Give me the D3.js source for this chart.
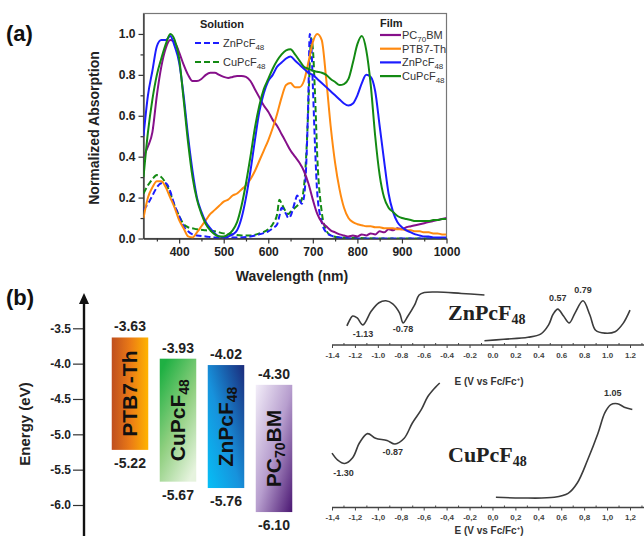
<!DOCTYPE html>
<html lang="en">
<head>
<meta charset="UTF-8" />
<title>Absorption, energy levels and CV</title>
<script src="https://d3js.org/d3.v7.min.js"></script>
<style>
  body { margin: 0; background: #fff; font-family: "Liberation Sans", Arial, sans-serif; }
  svg { display: block; }
  .ax .domain { stroke: #333; stroke-width: 1.3px; }
  .ax .tick line { stroke: #333; stroke-width: 1.2px; }
  .ax .tick text { font-family: "Liberation Sans", Arial, sans-serif; font-weight: bold; font-size: 12px; fill: #222; }
  .cvax .domain { stroke: #444; stroke-width: 1.2px; }
  .cvax .tick line { stroke: #444; stroke-width: 1px; }
  .cvax .tick text { font-family: "Liberation Sans", Arial, sans-serif; font-weight: bold; font-size: 8px; fill: #444; }
</style>
</head>
<body>
<svg id="fig" width="644" height="536"></svg>
<script>
// ---------- (a) absorption data ----------
const wlFilm = [320,330,340,350,360,370,380,390,400,410,420,430,440,450,460,470,480,490,500,
  510,520,530,540,550,560,570,580,590,600,610,620,630,640,650,660,670,680,690,700,
  710,720,730,740,750,760,770,780,790,800,810,820,830,840,850,860,870,880,890,900,
  910,920,930,940,950,960,970,980,990,1000];

const pc70bmFilm = [0.40,0.45,0.52,0.70,0.84,0.93,0.97,0.96,0.91,0.85,0.80,0.77,0.77,0.78,0.80,0.81,0.81,0.80,0.79,
  0.785,0.79,0.795,0.795,0.79,0.77,0.73,0.69,0.65,0.62,0.58,0.55,0.51,0.47,0.43,0.40,0.37,0.33,0.27,0.19,
  0.12,0.08,0.06,0.04,0.03,0.02,0.015,0.01,0.015,0.01,0.02,0.015,0.025,0.02,0.035,0.03,0.045,0.04,0.05,0.045,
  0.055,0.06,0.065,0.07,0.075,0.08,0.085,0.09,0.095,0.10];

const ptb7Film = [0.10,0.20,0.25,0.28,0.28,0.25,0.20,0.15,0.09,0.05,0.01,0.005,0.03,0.06,0.09,0.12,0.14,0.16,0.18,
  0.19,0.21,0.22,0.24,0.26,0.29,0.33,0.38,0.43,0.48,0.54,0.61,0.69,0.75,0.76,0.74,0.74,0.77,0.86,0.96,
  1.0,0.97,0.78,0.55,0.37,0.24,0.15,0.10,0.08,0.07,0.065,0.06,0.06,0.055,0.055,0.05,0.05,0.05,0.045,0.045,
  0.04,0.04,0.035,0.035,0.03,0.03,0.025,0.025,0.02,0.02];

const znFilm = [0.50,0.70,0.82,0.94,0.97,0.97,0.99,0.94,0.86,0.70,0.50,0.33,0.20,0.13,0.08,0.05,0.025,0.01,0.005,
  0.01,0.02,0.04,0.10,0.20,0.33,0.48,0.62,0.71,0.77,0.80,0.84,0.86,0.88,0.89,0.87,0.85,0.83,0.81,0.80,
  0.78,0.76,0.74,0.72,0.70,0.68,0.66,0.65,0.66,0.70,0.76,0.80,0.79,0.72,0.55,0.38,0.22,0.13,0.08,0.055,
  0.04,0.03,0.02,0.015,0.01,0.01,0.005,0.005,0.005,0.005];

const cuFilm = [0.30,0.52,0.68,0.80,0.88,0.95,1.0,0.97,0.88,0.68,0.47,0.30,0.19,0.12,0.07,0.04,0.02,0.01,0.01,
  0.02,0.04,0.08,0.16,0.27,0.40,0.54,0.65,0.73,0.78,0.83,0.87,0.90,0.92,0.925,0.90,0.87,0.84,0.83,0.82,
  0.815,0.81,0.80,0.78,0.765,0.75,0.755,0.78,0.86,0.95,0.99,0.92,0.75,0.50,0.31,0.20,0.15,0.13,0.11,0.10,
  0.095,0.09,0.085,0.085,0.085,0.085,0.09,0.09,0.095,0.095];

const wlSol = [320,330,340,350,360,370,380,390,400,410,420,430,440,460,480,500,520,540,560,580,600,610,620,625,
  630,640,645,650,660,665,670,675,680,685,690,693,696,700,705,710,720,730,740,760,800,850,900,950,1000];

const znSol = [0.14,0.17,0.21,0.25,0.27,0.27,0.23,0.16,0.11,0.06,0.035,0.02,0.015,0.01,0.005,0.005,0.005,0.005,0.01,0.02,0.035,0.05,0.07,0.11,
  0.15,0.12,0.10,0.11,0.18,0.21,0.19,0.17,0.20,0.35,0.70,1.0,0.97,0.75,0.45,0.22,0.08,0.03,0.015,0.005,0,0,0,0,0];

const cuSol = [0.22,0.26,0.29,0.31,0.30,0.27,0.22,0.16,0.11,0.07,0.055,0.05,0.045,0.04,0.035,0.025,0.02,0.015,0.015,0.025,0.045,0.07,0.12,0.19,
  0.17,0.13,0.12,0.13,0.15,0.16,0.17,0.19,0.25,0.40,0.65,0.85,0.98,0.93,0.70,0.40,0.13,0.04,0.015,0.005,0.003,0,0,0,0];

const xTicks = [400,500,600,700,800,900,1000];
const xMinor = [350,450,550,650,750,850,950];
const yTicks = [0,0.2,0.4,0.6,0.8,1.0];
const yMinor = [0.1,0.3,0.5,0.7,0.9];

// ---------- (b) energy levels ----------
const materials = ["PTB7-Th","CuPcF48","ZnPcF48","PC70BM"];
const lumo = [-3.63,-3.93,-4.02,-4.30];
const homo = [-5.22,-5.67,-5.76,-6.10];
const energyTicks = [-3.5,-4.0,-4.5,-5.0,-5.5,-6.0];

// ---------- (b) cyclic voltammetry (normalised current) ----------
const cvTicks = [-1.4,-1.2,-1.0,-0.8,-0.6,-0.4,-0.2,0.0,0.2,0.4,0.6,0.8,1.0,1.2];
const cvMinor = [-1.3,-1.1,-0.9,-0.7,-0.5,-0.3,-0.1,0.1,0.3,0.5,0.7,0.9,1.1,1.3];

const znRedE = [-1.27,-1.24,-1.22,-1.18,-1.13,-1.06,-0.99,-0.93,-0.87,-0.81,-0.78,-0.74,-0.68,-0.64,-0.595,-0.48,-0.27,-0.07];
const znRedI = [0.31,0.45,0.51,0.47,0.33,0.60,0.78,0.82,0.76,0.57,0.37,0.50,0.73,0.94,0.99,1.0,0.97,0.94];
const znOxE = [-0.07,0.10,0.31,0.42,0.49,0.53,0.57,0.62,0.67,0.72,0.79,0.85,0.90,0.98,1.07,1.14,1.20];
const znOxI = [0.006,0.035,0.075,0.14,0.33,0.55,0.65,0.51,0.37,0.57,0.82,0.53,0.22,0.16,0.19,0.36,0.63];

const cuRedE = [-1.40,-1.35,-1.29,-1.22,-1.16,-1.09,-1.02,-0.92,-0.85,-0.77,-0.70,-0.62,-0.565,-0.50,-0.46];
const cuRedI = [0.39,0.33,0.30,0.35,0.48,0.56,0.52,0.50,0.47,0.52,0.65,0.77,0.88,0.96,1.0];
const cuOxE = [0.03,0.25,0.54,0.66,0.74,0.83,0.92,0.98,1.03,1.09,1.15,1.22];
const cuOxI = [0.006,0.0,0.006,0.04,0.13,0.33,0.56,0.74,0.81,0.82,0.79,0.77];

const svg = d3.select("#fig");
svg.append("rect").attr("width", 644).attr("height", 536).attr("fill", "#fff");
const defs = svg.append("defs");

// write text made of [string, isSub] parts
function richText(sel, parts, subSize, subDy) {
  parts.forEach(p => {
    const t = sel.append("tspan").text(p[0]);
    if (p[1]) t.attr("font-size", subSize).attr("dy", subDy);
    else if (sel.selectAll("tspan").size() > 1) t.attr("dy", -subDy);
  });
  return sel;
}
function richParts(name) {
  if (name === "PC70BM") return [["PC", false], ["70", true], ["BM", false]];
  if (name.endsWith("48")) return [[name.slice(0, -2), false], ["48", true]];
  return [[name, false]];
}

// ================= panel (a) =================
const ax = d3.scaleLinear().domain([320, 1000]).range([143.5, 446.5]);
const ay = d3.scaleLinear().domain([0, 1.1]).range([238.5, 13.5]);

const pa = svg.append("g");
defs.append("clipPath").attr("id", "clipA").append("rect")
  .attr("x", ax(320)).attr("y", ay(1.1)).attr("width", ax(1000) - ax(320)).attr("height", ay(0) - ay(1.1));

pa.append("rect")
  .attr("x", ax(320)).attr("y", ay(1.1))
  .attr("width", ax(1000) - ax(320)).attr("height", ay(0) - ay(1.1))
  .attr("fill", "none").attr("stroke", "#777").attr("stroke-width", 1.2);

pa.append("g").attr("class", "ax").attr("transform", `translate(0,${ay(0)})`)
  .call(d3.axisBottom(ax).tickValues(xTicks).tickSize(5).tickSizeOuter(0).tickPadding(4).tickFormat(d3.format("d")));
pa.append("g").attr("class", "ax").attr("transform", `translate(0,${ay(0)})`)
  .call(d3.axisBottom(ax).tickValues(xMinor).tickSize(3).tickSizeOuter(0).tickFormat(""))
  .select(".domain").remove();
pa.append("g").attr("class", "ax").attr("transform", `translate(${ax(320)},0)`)
  .call(d3.axisLeft(ay).tickValues(yTicks).tickSize(5).tickSizeOuter(0).tickPadding(3).tickFormat(d => d.toFixed(1)));
pa.append("g").attr("class", "ax").attr("transform", `translate(${ax(320)},0)`)
  .call(d3.axisLeft(ay).tickValues(yMinor).tickSize(3).tickSizeOuter(0).tickFormat(""))
  .select(".domain").remove();

const plotA = pa.append("g").attr("clip-path", "url(#clipA)");
const absSeries = [
  { wl: wlSol, v: cuSol, color: "#138a13", dash: "6,3" },
  { wl: wlSol, v: znSol, color: "#1c1cff", dash: "6,3" },
  { wl: wlFilm, v: pc70bmFilm, color: "#86108a", dash: null },
  { wl: wlFilm, v: ptb7Film, color: "#ff8a10", dash: null },
  { wl: wlFilm, v: znFilm, color: "#1c1cff", dash: null },
  { wl: wlFilm, v: cuFilm, color: "#138a13", dash: null }
];
absSeries.forEach(s => {
  plotA.append("path")
    .datum(s.v)
    .attr("fill", "none")
    .attr("stroke", s.color)
    .attr("stroke-width", 2)
    .attr("stroke-dasharray", s.dash)
    .attr("d", d3.line().x((d, i) => ax(s.wl[i])).y(d => ay(d)).curve(d3.curveMonotoneX));
});

pa.append("text").attr("x", 6).attr("y", 41).attr("font-size", 22).attr("font-weight", "bold").attr("fill", "#111").text("(a)");
pa.append("text").attr("transform", "translate(99,128) rotate(-90)").attr("text-anchor", "middle")
  .attr("font-size", 14).attr("font-weight", "bold").attr("fill", "#222").text("Normalized Absorption");
pa.append("text").attr("x", 292).attr("y", 281).attr("text-anchor", "middle")
  .attr("font-size", 14).attr("font-weight", "bold").attr("fill", "#222").text("Wavelength (nm)");

// legends
pa.append("text").attr("x", 200).attr("y", 28).attr("font-size", 11).attr("font-weight", "bold").attr("fill", "#222").text("Solution");
const solLegend = [["ZnPcF48", "#1c1cff"], ["CuPcF48", "#138a13"]];
solLegend.forEach((d, i) => {
  const y = 43 + i * 19;
  pa.append("line").attr("x1", 195).attr("x2", 221).attr("y1", y).attr("y2", y)
    .attr("stroke", d[1]).attr("stroke-width", 2).attr("stroke-dasharray", "6,3");
  richText(pa.append("text").attr("x", 223).attr("y", y + 4).attr("font-size", 11).attr("fill", "#333"),
    richParts(d[0]), 8, 3);
});
pa.append("text").attr("x", 380).attr("y", 27).attr("font-size", 11).attr("font-weight", "bold").attr("fill", "#222").text("Film");
const filmLegend = [["PC70BM", "#86108a"], ["PTB7-Th", "#ff8a10"], ["ZnPcF48", "#1c1cff"], ["CuPcF48", "#138a13"]];
filmLegend.forEach((d, i) => {
  const y = 35 + i * 13.7;
  pa.append("line").attr("x1", 380).attr("x2", 401).attr("y1", y).attr("y2", y)
    .attr("stroke", d[1]).attr("stroke-width", 2.2);
  richText(pa.append("text").attr("x", 402).attr("y", y + 4).attr("font-size", 11).attr("fill", "#333"),
    richParts(d[0]), 8, 3);
});

// ================= panel (b) energy diagram =================
const pb = svg.append("g");
const ey = d3.scaleLinear().domain([-3.5, -6.0]).range([328.3, 505]);
const ex = d3.scalePoint().domain(materials).range([130, 274]);
const barW = 36.5;

pb.append("text").attr("x", 6).attr("y", 305).attr("font-size", 22).attr("font-weight", "bold").attr("fill", "#111").text("(b)");

pb.append("g").attr("class", "ax").attr("transform", "translate(84,0)")
  .call(d3.axisLeft(ey).tickValues(energyTicks).tickSize(11).tickSizeOuter(0).tickPadding(2).tickFormat(d => d.toFixed(1)))
  .call(g => g.select(".domain").remove())
  .call(g => g.selectAll(".tick line").attr("stroke-width", 1.6))
  .call(g => g.selectAll(".tick text").attr("font-size", 13).attr("fill", "#333"));
pb.append("line").attr("x1", 84).attr("x2", 84).attr("y1", 536).attr("y2", 300)
  .attr("stroke", "#111").attr("stroke-width", 2.4);
pb.append("path").attr("d", "M84,293 L79,304 L89,304 Z").attr("fill", "#111");
pb.append("text").attr("transform", "translate(30,424) rotate(-90)").attr("text-anchor", "middle")
  .attr("font-size", 15).attr("font-weight", "bold").attr("fill", "#222").text("Energy (eV)");

const grads = [
  { id: "gPTB", x1: 0, y1: 0, x2: 1, y2: 0, stops: [[0, "#bf4f1f"], [0.5, "#ea7a16"], [1, "#ffb400"]] },
  { id: "gCu", x1: 0.2, y1: 0, x2: 0.8, y2: 1, stops: [[0, "#1fb043"], [0.5, "#8fcf7f"], [1, "#e6f3de"]] },
  { id: "gZn", x1: 0, y1: 1, x2: 1, y2: 0, stops: [[0, "#06bff6"], [0.45, "#1792dc"], [1, "#1b2b7b"]] },
  { id: "gPC", x1: 0, y1: 0, x2: 1, y2: 1, stops: [[0, "#f3eef9"], [0.5, "#b79ece"], [1, "#4a1672"]] }
];
grads.forEach(g => {
  const lg = defs.append("linearGradient").attr("id", g.id)
    .attr("x1", g.x1).attr("y1", g.y1).attr("x2", g.x2).attr("y2", g.y2);
  g.stops.forEach(s => lg.append("stop").attr("offset", s[0]).attr("stop-color", s[1]));
});

materials.forEach((m, i) => {
  const cx = ex(m);
  const top = ey(lumo[i]), bot = ey(homo[i]);
  pb.append("rect").attr("x", cx - barW / 2).attr("y", top).attr("width", barW).attr("height", bot - top)
    .attr("fill", `url(#${grads[i].id})`);
  pb.append("text").attr("x", cx).attr("y", top - 6).attr("text-anchor", "middle")
    .attr("font-size", 14).attr("font-weight", "bold").attr("fill", "#222").text(lumo[i].toFixed(2));
  pb.append("text").attr("x", cx).attr("y", bot + 18).attr("text-anchor", "middle")
    .attr("font-size", 14).attr("font-weight", "bold").attr("fill", "#222").text(homo[i].toFixed(2));
  const t = pb.append("text")
    .attr("transform", `translate(${cx + 7},${(top + bot) / 2}) rotate(-90)`)
    .attr("text-anchor", "middle").attr("font-size", 21).attr("font-weight", "bold").attr("fill", "#111");
  richText(t, richParts(m), 14, 4);
});

// ================= panel (b) CV curves =================
const cvx = d3.scaleLinear().domain([-1.4, 1.2]).range([332, 630]);
const cvTop = d3.scaleLinear().domain([0, 1]).range([341, 292]);
const cvBot = d3.scaleLinear().domain([0, 1]).range([498, 383]);
const cvColor = "#3c3c3c";

function cvAxis(y, fmt, labelY) {
  const g = svg.append("g");
  g.append("line").attr("x1", cvx(-1.4)).attr("x2", 644).attr("y1", y).attr("y2", y)
    .attr("stroke", "#444").attr("stroke-width", 1.3);
  g.append("g").attr("class", "cvax").attr("transform", `translate(0,${y})`)
    .call(d3.axisBottom(cvx).tickValues(cvTicks).tickSize(3).tickSizeOuter(0).tickPadding(4).tickFormat(fmt))
    .select(".domain").remove();
  g.append("g").attr("class", "cvax").attr("transform", `translate(0,${y})`)
    .call(d3.axisTop(cvx).tickValues(cvMinor).tickSize(2).tickSizeOuter(0).tickFormat(""))
    .select(".domain").remove();
  const t = g.append("text").attr("x", 489).attr("y", labelY).attr("text-anchor", "middle")
    .attr("font-size", 10).attr("font-weight", "bold").attr("fill", "#333");
  t.append("tspan").text("E (V vs Fc/Fc");
  t.append("tspan").text("+").attr("font-size", 6).attr("dy", -4);
  t.append("tspan").text(")").attr("dy", 4);
}
cvAxis(345, d => d.toFixed(1), 385);
cvAxis(507.5, d => d.toFixed(1).replace(".", ","), 534);

function cvLine(E, I, yScale) {
  svg.append("path").datum(I)
    .attr("fill", "none").attr("stroke", cvColor).attr("stroke-width", 1.6)
    .attr("d", d3.line().x((d, i) => cvx(E[i])).y(d => yScale(d)).curve(d3.curveCatmullRom));
}
cvLine(znRedE, znRedI, cvTop);
cvLine(znOxE, znOxI, cvTop);
cvLine(cuRedE, cuRedI, cvBot);
cvLine(cuOxE, cuOxI, cvBot);

// peak labels
const znPeaks = [[-1.13, 0.33, 12], [-0.78, 0.37, 9], [0.57, 0.65, -8], [0.79, 0.82, -8]];
znPeaks.forEach(p => {
  svg.append("text").attr("x", cvx(p[0])).attr("y", cvTop(p[1]) + p[2])
    .attr("text-anchor", "middle").attr("font-size", 9).attr("font-weight", "bold").attr("fill", "#333")
    .text(p[0].toFixed(2));
});
const cuPeaks = [[-1.30, 0.30, 12], [-0.87, 0.47, 11], [1.05, 0.82, -8]];
cuPeaks.forEach(p => {
  svg.append("text").attr("x", cvx(p[0])).attr("y", cvBot(p[1]) + p[2])
    .attr("text-anchor", "middle").attr("font-size", 9).attr("font-weight", "bold").attr("fill", "#333")
    .text(p[0].toFixed(2));
});

const serif = '"Liberation Serif", "Times New Roman", serif';
richText(svg.append("text").attr("x", 448).attr("y", 320).attr("font-family", serif)
  .attr("font-size", 22).attr("font-weight", "bold").attr("fill", "#222"), richParts("ZnPcF48"), 14, 4);
richText(svg.append("text").attr("x", 448).attr("y", 462).attr("font-family", serif)
  .attr("font-size", 22).attr("font-weight", "bold").attr("fill", "#222"), richParts("CuPcF48"), 14, 4);
</script>
</body>
</html>
